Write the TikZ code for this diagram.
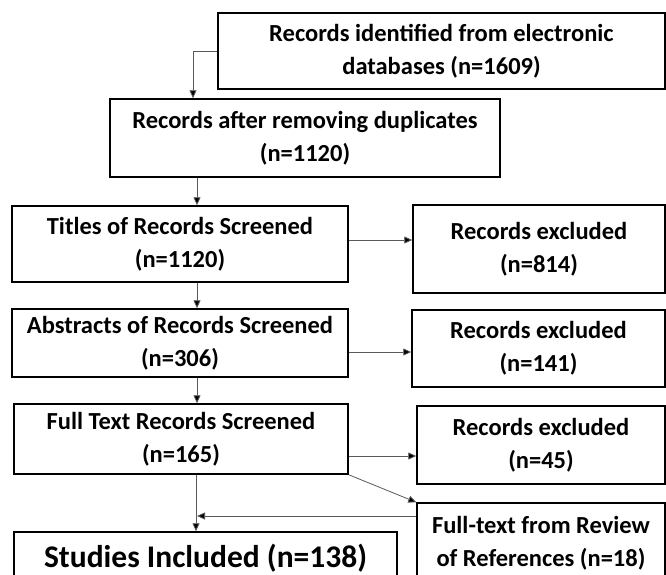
\documentclass[tikz,border=0pt]{standalone}
\usepackage{fontspec}
\setmainfont{Carlito}
\usetikzlibrary{arrows.meta,calc}
\begin{document}
\begin{tikzpicture}[x=1pt,y=-1pt,
  box/.style={draw=black,line width=1.5pt,align=center,inner sep=0pt,
    font=\fontsize{24.5}{33}\selectfont\bfseries,anchor=center},
  conn/.style={draw=black!65,line width=0.8pt,-{Triangle[length=8pt,width=7pt,fill=black]}}]
\useasboundingbox (0,0) rectangle (666,574);
\clip (0,0) rectangle (666,574);
\node[box,minimum width=447pt,minimum height=76pt] (b1) at (441.5,51) {Records identified from electronic\\databases (n=1609)};
\node[box,minimum width=390pt,minimum height=78pt] (b2) at (305,138) {Records after removing duplicates\\(n=1120)};
\node[box,minimum width=336pt,minimum height=76pt] (t) at (180,244) {Titles of Records Screened\\(n=1120)};
\node[box,minimum width=252pt,minimum height=88pt] (e1) at (539,249) {Records excluded\\(n=814)};
\node[box,minimum width=336pt,minimum height=68pt] (a) at (180,343) {Abstracts of Records Screened\\(n=306)};
\node[box,minimum width=253pt,minimum height=77pt] (e2) at (538.5,348.5) {Records excluded\\(n=141)};
\node[box,minimum width=334pt,minimum height=70pt] (f) at (181,439) {Full Text Records Screened\\(n=165)};
\node[box,minimum width=248pt,minimum height=78pt] (e3) at (541,445) {Records excluded\\(n=45)};
\node[box,minimum width=248pt,minimum height=81pt] (r) at (541,543.5) {Full-text from Review\\of References (n=18)};
\node[box,minimum width=383pt,minimum height=52pt,font=\fontsize{31.5}{38}\selectfont\bfseries] (s) at (205.5,558) {Studies Included (n=138)};
\coordinate (k1) at (193,0);
\coordinate (k2) at (197,0);
\coordinate (k3) at (196,0);
\coordinate (y1) at (0,240);
\coordinate (y2) at (0,352);
\coordinate (y3) at (0,456);
\coordinate (y4) at (0,516);
\draw[conn] (b1.west) -| (b2.north -| k1);
\draw[conn] (b2.south -| k2) -- (t.north -| k2);
\draw[conn] (t.south -| k2) -- (a.north -| k2);
\draw[conn] (a.south -| k2) -- (f.north -| k2);
\draw[conn] (t.east |- y1) -- (e1.west |- y1);
\draw[conn] (a.east |- y2) -- (e2.west |- y2);
\draw[conn] (f.east |- y3) -- (e3.west |- y3);
\draw[conn] (f.south east) -- (r.north west);
\draw[conn] (r.west |- y4) -- (k2 |- y4);
\draw[conn] (f.south -| k3) -- (s.north -| k3);
\end{tikzpicture}
\end{document}
